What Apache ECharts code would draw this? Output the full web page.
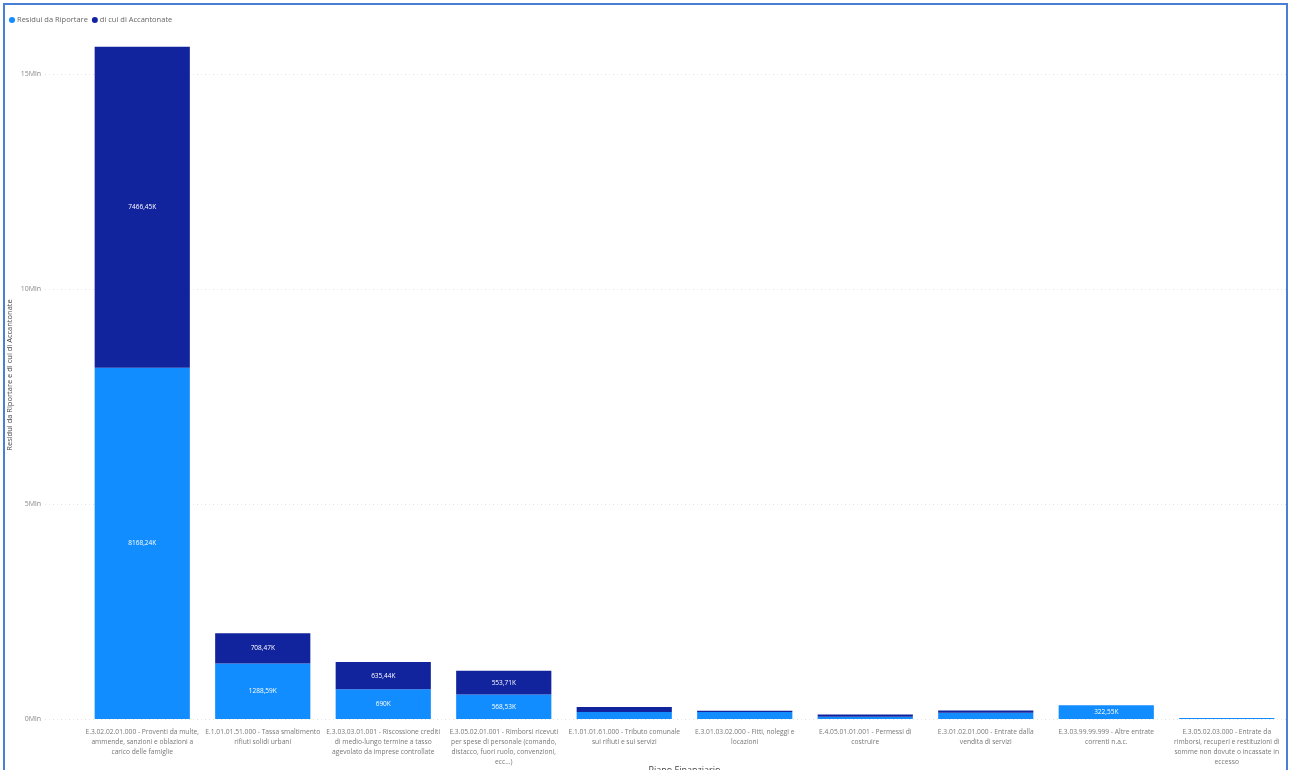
<!DOCTYPE html>
<html>
<head>
<meta charset="utf-8">
<script src="https://cdn.jsdelivr.net/npm/echarts@6/dist/echarts.min.js"></script>
<style>
html,body{margin:0;padding:0;background:#fff;}
#frame{position:absolute;left:3px;top:3px;width:1285px;height:780px;border:2px solid #4a7fd6;box-sizing:border-box;}
#chart{position:absolute;left:0;top:0;width:1293px;height:770px;}
</style>
</head>
<body>
<div id="frame"></div>
<div id="chart"></div>
<script>
// Data (values in thousands)
const categories = [
  "E.3.02.02.01.000 - Proventi da multe,\nammende, sanzioni e oblazioni a\ncarico delle famiglie",
  "E.1.01.01.51.000 - Tassa smaltimento\nrifiuti solidi urbani",
  "E.3.03.03.01.001 - Riscossione crediti\ndi medio-lungo termine a tasso\nagevolato da imprese controllate",
  "E.3.05.02.01.001 - Rimborsi ricevuti\nper spese di personale (comando,\ndistacco, fuori ruolo, convenzioni,\necc...)",
  "E.1.01.01.61.000 - Tributo comunale\nsui rifiuti e sui servizi",
  "E.3.01.03.02.000 - Fitti, noleggi e\nlocazioni",
  "E.4.05.01.01.001 - Permessi di\ncostruire",
  "E.3.01.02.01.000 - Entrate dalla\nvendita di servizi",
  "E.3.03.99.99.999 - Altre entrate\ncorrenti n.a.c.",
  "E.3.05.02.03.000 - Entrate da\nrimborsi, recuperi e restituzioni di\nsomme non dovute o incassate in\neccesso"
];
const residui = [8168.24, 1288.59, 690, 568.53, 160, 165, 55, 145, 322.55, 25];
const accantonate = [7466.45, 708.47, 635.44, 553.71, 120, 25, 50, 55, 0, 0];
const seriesNames = ["Residui da Riportare", "di cui di Accantonate"];
const yTicks = [0, 5000, 10000, 15000];
const yMax = 16000;

const FONT = "'Segoe UI', 'Open Sans', 'Noto Sans', sans-serif";
const chart = echarts.init(document.getElementById('chart'));

function fmtK(v) {
  if (v < 300) return '';
  let s = (Math.round(v * 100) / 100).toString().replace('.', ',');
  return s + 'K';
}

const gridTop = 31, gridBottom = 51;
chart.setOption({
  animation: false,
  textStyle: { fontFamily: FONT },
  color: ['#118DFF', '#12239E'],
  legend: {
    left: 4, top: 11,
    itemWidth: 6, itemHeight: 6, itemGap: 4,
    icon: 'circle',
    textStyle: { fontSize: 7.5, color: '#666', fontFamily: FONT, padding: [0, 0, 0, -3] },
    data: seriesNames
  },
  grid: [
    { left: 45, right: 4, top: gridTop, bottom: gridBottom, outerBoundsMode: 'none', containLabel: false },
    { left: 82, right: 6, top: gridTop, bottom: gridBottom, outerBoundsMode: 'none', containLabel: false }
  ],
  xAxis: [
    { type: 'category', gridIndex: 0, data: categories, show: false },
    {
      type: 'category', gridIndex: 1, data: categories,
      axisLine: { show: false }, axisTick: { show: false },
      axisLabel: {
        interval: 0, margin: 8,
        fontSize: 6.7, lineHeight: 10, color: '#777', fontFamily: FONT
      },
      name: 'Piano Finanziario', nameLocation: 'middle', nameGap: 47, nameMoveOverlap: false,
      nameTextStyle: { fontSize: 9, color: '#444', fontFamily: FONT }
    }
  ],
  yAxis: [
    {
      type: 'value', gridIndex: 0, min: 0, max: yMax, interval: 5000,
      axisLine: { show: false }, axisTick: { show: false },
      axisLabel: {
        showMaxLabel: false, margin: 4, fontSize: 7, color: '#888', fontFamily: FONT,
        formatter: v => yTicks.indexOf(v) >= 0 ? (v / 1000) + 'Mln' : ''
      },
      splitLine: { show: true, showMaxLine: false, lineStyle: { color: '#e4e4e4', type: [1, 3], width: 1 } },
      name: 'Residui da Riportare e di cui di Accantonate', nameLocation: 'middle', nameGap: 31, nameMoveOverlap: false,
      nameTextStyle: { fontSize: 7.5, color: '#444', fontFamily: FONT }
    },
    {
      type: 'value', gridIndex: 1, min: 0, max: yMax, interval: 5000, show: false,
      splitLine: { show: false }
    }
  ],
  series: [
    {
      name: seriesNames[0], type: 'bar', stack: 'a', xAxisIndex: 1, yAxisIndex: 1,
      data: residui, barCategoryGap: '21%',
      label: { show: true, position: 'inside', color: '#fff', fontSize: 6.5, fontFamily: FONT,
        formatter: p => fmtK(p.value) }
    },
    {
      name: seriesNames[1], type: 'bar', stack: 'a', xAxisIndex: 1, yAxisIndex: 1,
      data: accantonate, barCategoryGap: '21%',
      label: { show: true, position: 'inside', color: '#fff', fontSize: 6.5, fontFamily: FONT,
        formatter: p => fmtK(p.value) }
    }
  ]
});
</script>
</body>
</html>
